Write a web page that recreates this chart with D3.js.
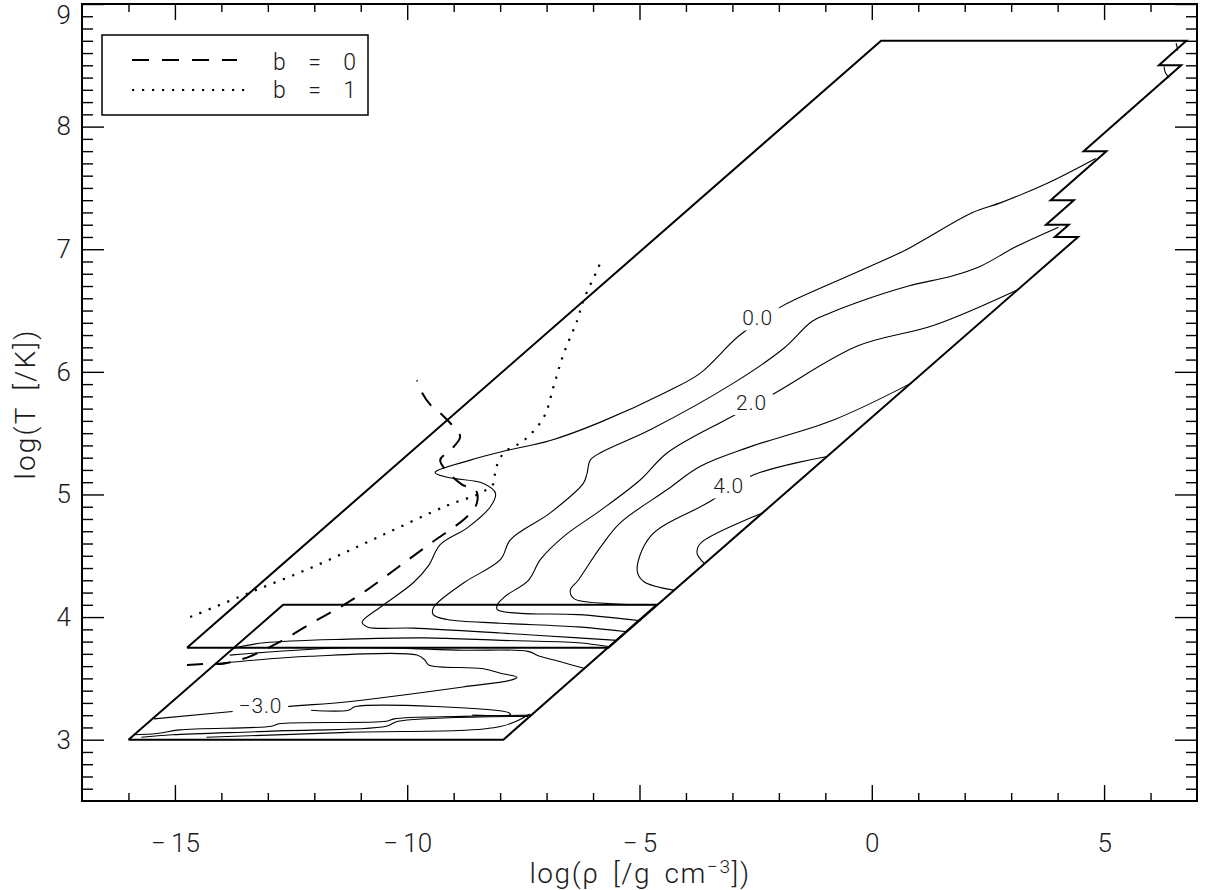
<!DOCTYPE html>
<html lang="en">
<head>
<meta charset="UTF-8">
<title>opacity table contours</title>
<script src="https://d3js.org/d3.v7.min.js"></script>
<style>
  body { margin: 0; background: #fff; }
  svg text { font-family: "Roboto", "DejaVu Sans", sans-serif; font-weight: 300; fill: #1a1a1a; }
  .frame { fill: none; stroke: #000; stroke-width: 2px; }
  .edge { fill: none; stroke: #000; stroke-width: 2px; stroke-linejoin: miter; }
  .contour { fill: none; stroke: #000; stroke-width: 1.1px; }
  .tick line { stroke: #000; stroke-width: 1.4px; }
  .domain { display: none; }
</style>
</head>
<body>
<script>
// tick values
var xTicks = [-15, -10, -5, 0, 5];
var yTicks = [3, 4, 5, 6, 7, 8, 9];

// table outlines, [log rho, log T]
var upperTable = [[-14.74, 3.75], [0.2, 8.7], [6.77, 8.7], [6.18, 8.5], [6.66, 8.5], [4.56, 7.8], [5.05, 7.8],
  [3.85, 7.4], [4.35, 7.4], [3.75, 7.2], [4.24, 7.2], [3.94, 7.1], [4.44, 7.1], [-5.67, 3.75], [-14.74, 3.75]];
var lowerTable = [[-16, 3.0], [-7.93, 3.0], [-4.63, 4.1], [-12.67, 4.1], [-16, 3.0]];

// contour lines, upper table
var c0 = [[4.82, 7.74], [3.79, 7.54], [2.78, 7.38], [2.17, 7.30], [1.18, 7.09], [0.71, 6.99], [-0.82, 6.73],
  [-1.96, 6.53], [-2.87, 6.29], [-3.69, 5.99], [-4.40, 5.84], [-5.84, 5.59], [-6.92, 5.44], [-7.84, 5.36],
  [-8.64, 5.28], [-9.40, 5.18], [-9.14, 5.14], [-8.36, 5.09], [-8.10, 5.01], [-8.21, 4.90], [-8.70, 4.73],
  [-9.29, 4.59], [-9.54, 4.42], [-9.87, 4.28], [-10.58, 4.08], [-10.97, 3.96], [-10.86, 3.92], [-9.87, 3.91],
  [-7.99, 3.87], [-7.15, 3.85], [-5.48, 3.81]];
var c1 = [[4.02, 7.18], [3.10, 7.02], [2.33, 6.86], [1.71, 6.78], [0.79, 6.70], [-0.36, 6.56], [-0.90, 6.48],
  [-1.29, 6.41], [-1.90, 6.19], [-2.97, 5.91], [-4.76, 5.53], [-5.84, 5.34], [-6.06, 5.28], [-6.13, 5.17],
  [-6.21, 5.09], [-6.92, 4.85], [-7.78, 4.63], [-7.99, 4.47], [-8.78, 4.28], [-9.43, 4.08], [-9.44, 4.02],
  [-9.14, 3.98], [-7.99, 3.95], [-6.32, 3.92], [-5.27, 3.88]];
var c2 = [[3.14, 6.67], [1.34, 6.38], [-0.31, 6.21], [-2.07, 5.83], [-3.04, 5.63], [-4.40, 5.34], [-4.98, 5.12],
  [-5.84, 4.87], [-6.59, 4.67], [-7.13, 4.47], [-7.39, 4.30], [-7.89, 4.17], [-8.06, 4.10], [-8.06, 4.06],
  [-7.56, 4.03], [-6.32, 4.02], [-4.97, 3.97]];
var c3 = [[0.86, 5.91], [-0.81, 5.61], [-2.61, 5.39], [-3.69, 5.23], [-4.40, 5.04], [-5.41, 4.77], [-5.84, 4.57],
  [-6.32, 4.30], [-6.49, 4.22], [-6.41, 4.15], [-5.67, 4.11], [-4.65, 4.10]];
var c4 = [[-0.96, 5.31], [-2.54, 5.16], [-3.54, 4.93], [-4.76, 4.66], [-5.05, 4.38], [-4.91, 4.29], [-4.26, 4.22]];
var c5 = [[-2.34, 4.85], [-3.69, 4.60], [-3.76, 4.52], [-3.61, 4.44]];
var t1 = [[6.55, 8.68], [6.57, 8.65], [6.58, 8.62]];
var t2 = [[6.29, 8.49], [6.32, 8.44], [6.40, 8.40]];

// contour lines, lower table
var l1 = [[-13.72, 3.75], [-13.08, 3.79], [-11.27, 3.82], [-9.62, 3.83], [-7.97, 3.81], [-6.32, 3.79], [-5.67, 3.76]];
var l2 = [[-13.82, 3.69], [-11.27, 3.75], [-8.80, 3.73], [-7.40, 3.72], [-7.15, 3.68], [-6.74, 3.64], [-6.18, 3.58]];
var l3 = [[-15.45, 3.17], [-12.59, 3.27], [-11.27, 3.31], [-8.80, 3.43], [-7.73, 3.49], [-7.64, 3.51], [-7.97, 3.54],
  [-8.39, 3.58], [-9.54, 3.61], [-9.62, 3.65], [-9.79, 3.69], [-12.10, 3.68], [-14.10, 3.62]];
var l4 = [[-12.07, 3.24], [-11.27, 3.24], [-11.11, 3.27], [-7.81, 3.22], [-7.78, 3.205], [-8.6, 3.20]];
var b1 = [[-15.89, 3.04], [-15.39, 3.05], [-14.90, 3.08], [-12.92, 3.11], [-12.76, 3.13], [-10.45, 3.15],
  [-10.28, 3.17], [-8.80, 3.19], [-7.33, 3.20]];
var b2 = [[-15.72, 3.02], [-15.06, 3.04], [-12.92, 3.07], [-10.45, 3.11], [-10.20, 3.15], [-7.40, 3.19]];
var b3 = [[-14.32, 3.02], [-11.27, 3.06], [-7.97, 3.11], [-7.36, 3.21]];

// contour labels
var labels = [
  { text: "0.0", at: [-2.46, 6.44] },
  { text: "2.0", at: [-2.59, 5.75] },
  { text: "4.0", at: [-3.08, 5.07] },
  { text: "\u22123.0", at: [-13.16, 3.28] }
];

// b = 0 (dashed) and b = 1 (dotted) tracks
var track0 = [[-14.74, 3.61], [-14.28, 3.62], [-13.96, 3.62], [-13.38, 3.68], [-12.73, 3.80], [-12.02, 3.96],
  [-11.45, 4.08], [-10.87, 4.22], [-10.22, 4.40], [-9.50, 4.60], [-8.71, 4.82], [-8.50, 4.93], [-8.53, 5.04],
  [-8.82, 5.08], [-9.29, 5.28], [-9.07, 5.36], [-8.86, 5.47], [-9.00, 5.55], [-9.25, 5.65], [-9.50, 5.73],
  [-9.68, 5.83], [-9.79, 5.93]];
var track1 = [[-14.67, 4.00], [-13.45, 4.19], [-12.02, 4.41], [-10.58, 4.66], [-9.14, 4.91], [-8.43, 5.01],
  [-8.14, 5.09], [-8.10, 5.20], [-7.92, 5.34], [-7.49, 5.44], [-7.06, 5.63], [-6.85, 5.88], [-6.63, 6.15],
  [-6.34, 6.42], [-6.20, 6.59], [-5.91, 6.83], [-5.80, 6.93]];

var svg = d3.select("body").append("svg")
  .attr("width", 1208)
  .attr("height", 890);

var x = d3.scaleLinear().domain([-17, 7]).range([82, 1197]);
var y = d3.scaleLinear().domain([2.5, 9]).range([801, 4]);

var straight = d3.line().x(function (d) { return x(d[0]); }).y(function (d) { return y(d[1]); });
var smooth = d3.line().x(function (d) { return x(d[0]); }).y(function (d) { return y(d[1]); })
  .curve(d3.curveCatmullRom.alpha(0.5));

// minor tick values
var xMinor = d3.range(-16, 7).filter(function (v) { return xTicks.indexOf(v) < 0; });
var yMinor = d3.range(26, 90).map(function (v) { return v / 10; })
  .filter(function (v) { return Math.abs(v - Math.round(v)) > 0.01; });

// IDL-like labels: a small gap after the minus sign
var fmt = function (d) { return d < 0 ? "\u2212\u2009" + Math.abs(d) : String(d); };

var xAxis = svg.append("g").attr("transform", "translate(0,801)")
  .call(d3.axisBottom(x).tickValues(xTicks).tickSize(-16).tickPadding(33).tickFormat(fmt));
xAxis.selectAll("text").style("font-size", "26px");
svg.append("g").attr("transform", "translate(0,801)")
  .call(d3.axisBottom(x).tickValues(xMinor).tickSize(-8).tickFormat(""));
svg.append("g").attr("transform", "translate(0,4)")
  .call(d3.axisTop(x).tickValues(xTicks).tickSize(-16).tickFormat(""));
svg.append("g").attr("transform", "translate(0,4)")
  .call(d3.axisTop(x).tickValues(xMinor).tickSize(-8).tickFormat(""));

var yAxis = svg.append("g").attr("transform", "translate(82,0)")
  .call(d3.axisLeft(y).tickValues(yTicks).tickSize(-22).tickPadding(11).tickFormat(fmt));
yAxis.selectAll("text").style("font-size", "26px")
  .attr("dy", function (d) { return d === 9 ? "0.75em" : "0.32em"; });
svg.append("g").attr("transform", "translate(82,0)")
  .call(d3.axisLeft(y).tickValues(yMinor).tickSize(-11).tickFormat(""));
svg.append("g").attr("transform", "translate(1197,0)")
  .call(d3.axisRight(y).tickValues(yTicks).tickSize(-22).tickFormat(""));
svg.append("g").attr("transform", "translate(1197,0)")
  .call(d3.axisRight(y).tickValues(yMinor).tickSize(-11).tickFormat(""));

svg.append("rect").attr("class", "frame")
  .attr("x", 82).attr("y", 4).attr("width", 1115).attr("height", 797);

// axis titles
var xt = svg.append("text").attr("x", 640).attr("y", 883).attr("text-anchor", "middle")
  .style("font-size", "28px").style("letter-spacing", "1.6px").style("word-spacing", "5px");
xt.append("tspan").text("log(\u03c1 [/g cm");
xt.append("tspan").attr("dy", -10).style("font-size", "19px").text("\u22123");
xt.append("tspan").attr("dy", 10).text("])");

svg.append("text").attr("transform", "translate(35,404) rotate(-90)")
  .attr("text-anchor", "middle").style("font-size", "28px")
  .style("letter-spacing", "2.2px").style("word-spacing", "6px")
  .text("log(T [/K])");

// tables
svg.selectAll(".edge").data([upperTable, lowerTable]).enter()
  .append("path").attr("class", "edge").attr("d", straight);

// contours
svg.selectAll(".contour").data([c0, c1, c2, c3, c4, c5, t1, t2, l1, l2, l3, l4, b1, b2, b3]).enter()
  .append("path").attr("class", "contour").attr("d", smooth);

// contour labels with a gap in the line
var lab = svg.selectAll(".clabel").data(labels).enter().append("g").attr("class", "clabel")
  .attr("transform", function (d) { return "translate(" + x(d.at[0]) + "," + y(d.at[1]) + ")"; });
lab.append("rect").attr("fill", "#fff");
lab.append("text").attr("text-anchor", "middle").attr("dy", "0.36em")
  .style("font-size", "21px").style("letter-spacing", "0.8px").attr("fill", "#333")
  .text(function (d) { return d.text; });
lab.each(function () {
  var g = d3.select(this);
  var bb = g.select("text").node().getBBox();
  g.select("rect").attr("x", bb.x - 6).attr("y", bb.y).attr("width", bb.width + 12).attr("height", bb.height);
});

// tracks
svg.append("path").datum(track0).attr("d", smooth)
  .attr("fill", "none").attr("stroke", "#000").attr("stroke-width", 2).attr("stroke-dasharray", "16,12");
svg.append("path").datum(track1).attr("d", smooth)
  .attr("fill", "none").attr("stroke", "#000").attr("stroke-width", 2.2).attr("stroke-dasharray", "2.2,7.8");

// legend
var leg = svg.append("g");
leg.append("rect").attr("x", 102).attr("y", 35).attr("width", 266).attr("height", 80)
  .attr("fill", "#fff").attr("stroke", "#000").attr("stroke-width", 1.5);
leg.append("line").attr("x1", 132).attr("x2", 237).attr("y1", 60).attr("y2", 60)
  .attr("stroke", "#000").attr("stroke-width", 2).attr("stroke-dasharray", "17,13");
leg.append("line").attr("x1", 132).attr("x2", 252).attr("y1", 90).attr("y2", 90)
  .attr("stroke", "#000").attr("stroke-width", 2.2).attr("stroke-dasharray", "2.2,7.8");
leg.append("text").attr("x", 273).attr("y", 70).style("font-size", "23px")
  .attr("textLength", 83).attr("lengthAdjust", "spacing").text("b = 0");
leg.append("text").attr("x", 273).attr("y", 98).style("font-size", "23px")
  .attr("textLength", 83).attr("lengthAdjust", "spacing").text("b = 1");
</script>
</body>
</html>
